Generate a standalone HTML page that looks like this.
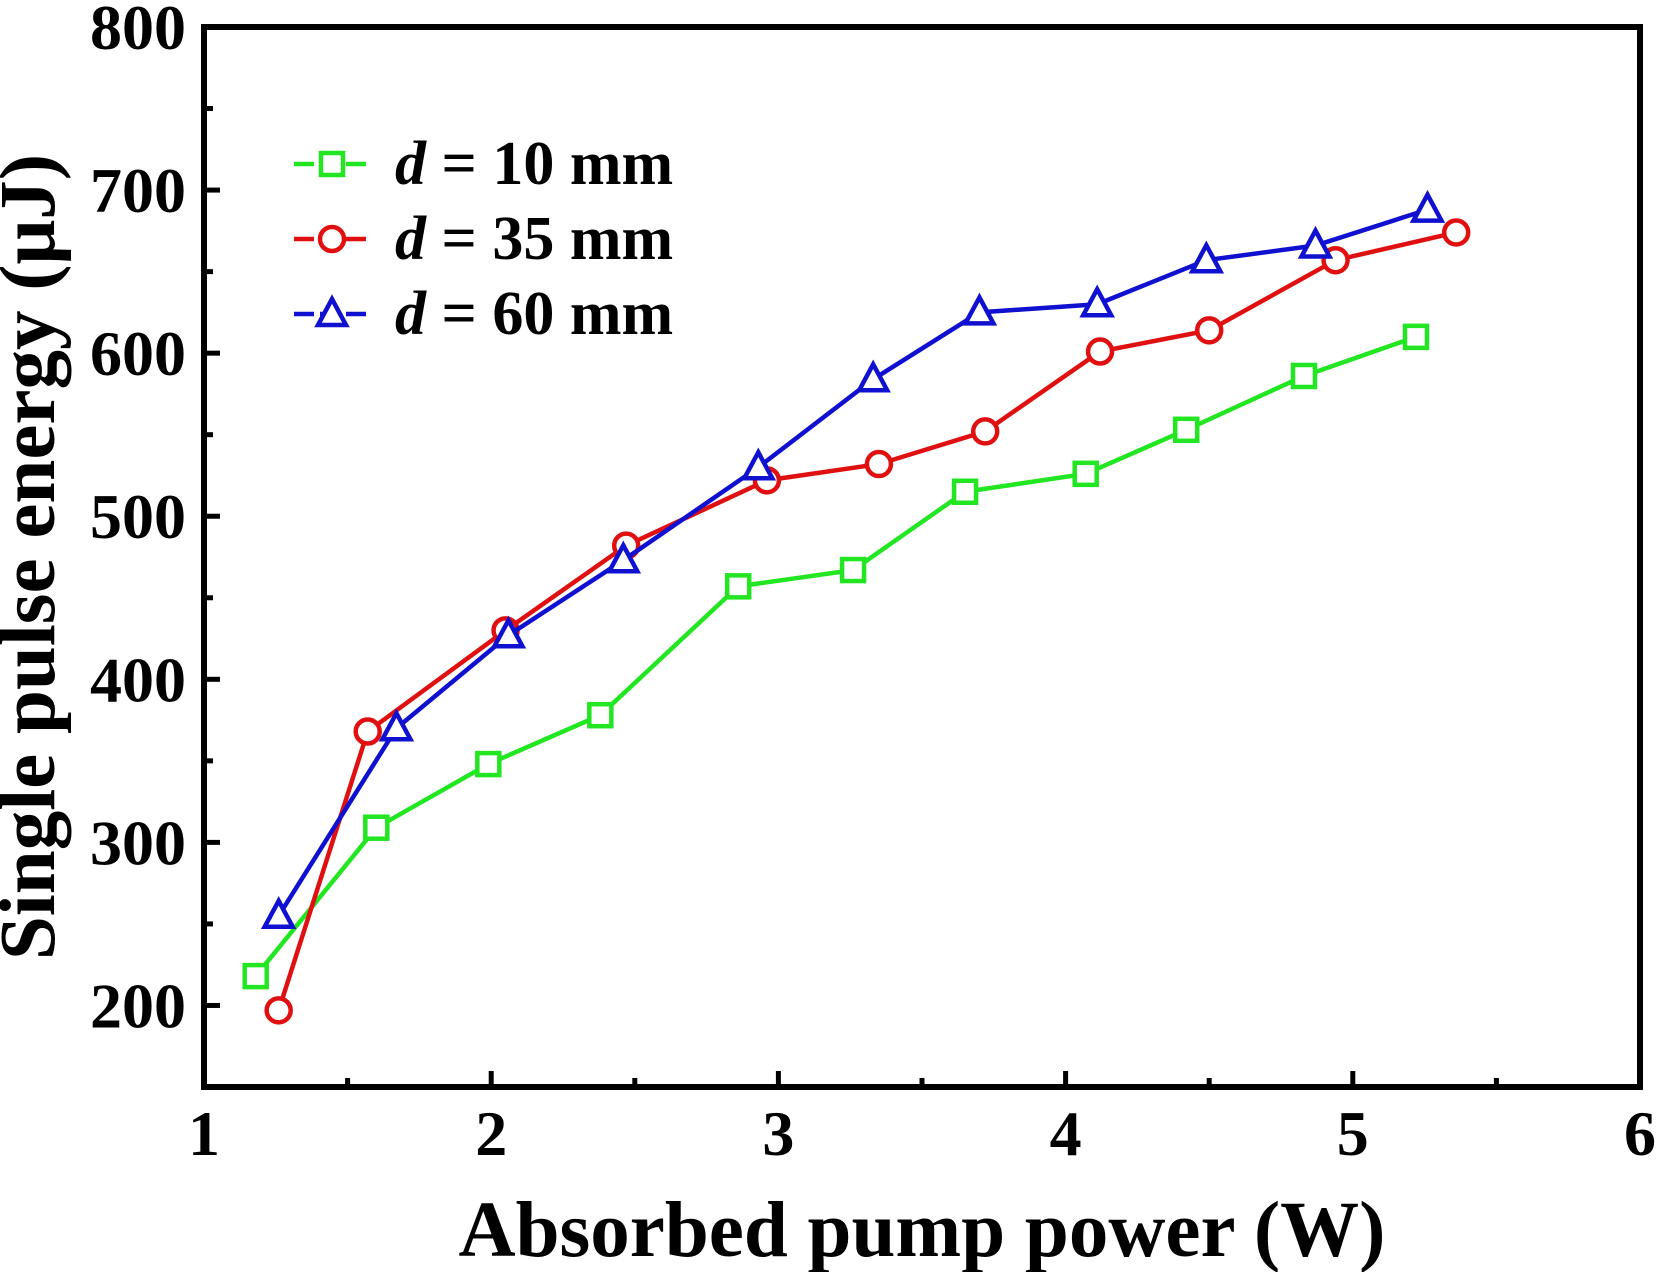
<!DOCTYPE html>
<html><head><meta charset="utf-8"><style>
body{margin:0;background:#fff}
text{font-family:"Liberation Serif",serif;font-weight:bold;fill:#000}
</style></head><body>
<svg id="c" width="1656" height="1272" viewBox="0 0 1656 1272"></svg>
<script>
const xs10=[1.18,1.60,1.99,2.38,2.86,3.26,3.65,4.07,4.42,4.83,5.22];
const ys10=[218,309,348,378,457,467,515,526,553,586,610];
const xs35=[1.26,1.57,2.05,2.47,2.96,3.35,3.72,4.12,4.50,4.94,5.36];
const ys35=[197,368,430,482,522,532,552,601,614,657,674];
const xs60=[1.26,1.67,2.06,2.46,2.93,3.33,3.70,4.11,4.49,4.87,5.26];
const ys60=[255,370,427,473,530,584,625,630,657,666,688];
const xTicks=[1,2,3,4,5,6];
const yTicks=[200,300,400,500,600,700,800];
const L=204,R=1640,T=27,B=1087;
const X=v=>L+(v-1)/5*(R-L);
const Y=v=>B-(v-150)/650*(B-T);
const svg=document.getElementById('c');
const NS='http://www.w3.org/2000/svg';
function mk(t,a,p){const e=document.createElementNS(NS,t);for(const k in a)e.setAttribute(k,a[k]);(p||svg).appendChild(e);return e;}
const frame=mk('rect',{x:L,y:T,width:R-L,height:B-T,fill:'none',stroke:'#000','stroke-width':6});


for(let v=1;v<=6;v+=0.5){const big=Number.isInteger(v);const t=mk('line',{x1:X(v),x2:X(v),y1:B,y2:B-(big?16:9),stroke:'#000','stroke-width':5});

}
for(let v=150;v<=800;v+=50){const big=v%100==0;const t=mk('line',{x1:L,x2:L+(big?16:9),y1:Y(v),y2:Y(v),stroke:'#000','stroke-width':5});

}
xTicks.forEach(v=>{const t=mk('text',{x:X(v),y:B+68,'text-anchor':'middle','font-size':64});t.textContent=v;

});
yTicks.forEach(v=>{const t=mk('text',{x:L-18,y:Y(v)+22,'text-anchor':'end','font-size':64});t.textContent=v;

});
const xt=mk('text',{x:922,y:1256,'text-anchor':'middle','font-size':79});xt.textContent='Absorbed pump power (W)';


const yt=mk('text',{x:54,y:557,'text-anchor':'middle','font-size':79,transform:'rotate(-90 54 557)'});yt.textContent='Single pulse energy (μJ)';


function marker(kind,cx,cy,col,name){let e;
if(kind=='sq')e=mk('rect',{x:cx-11,y:cy-11,width:22,height:22,fill:'#fff',stroke:col,'stroke-width':4.5});
else if(kind=='ci')e=mk('circle',{cx:cx,cy:cy,r:12,fill:'#fff',stroke:col,'stroke-width':4.5});
else e=mk('polygon',{points:`${cx},${cy-15} ${cx-14},${cy+11} ${cx+14},${cy+11}`,fill:'#fff',stroke:col,'stroke-width':4.5});

}
const series=[[xs10,ys10,'#22e622','sq','d10'],[xs35,ys35,'#e01010','ci','d35'],[xs60,ys60,'#1010d0','tr','d60']];
series.forEach(([xs,ys,col,k,n])=>{
const p=mk('polyline',{points:xs.map((x,i)=>X(x)+','+Y(ys[i])).join(' '),fill:'none',stroke:col,'stroke-width':4.5});


xs.forEach((x,i)=>marker(k,X(x),Y(ys[i]),col,'point-'+n));});
const labels=['10','35','60'];
series.forEach(([xs,ys,col,k,n],i)=>{const y=164+i*75;
const l=mk('line',{x1:294,x2:370,y1:y,y2:y,stroke:col,'stroke-width':4.5,'stroke-dasharray':'20 6'});


marker(k,332,y,col,'legend-marker-'+n);
const t=mk('text',{x:395,y:y+20,'font-size':62});
t.innerHTML='<tspan font-style="italic">d</tspan> = '+labels[i]+' mm';

});
</script>
</body></html>
